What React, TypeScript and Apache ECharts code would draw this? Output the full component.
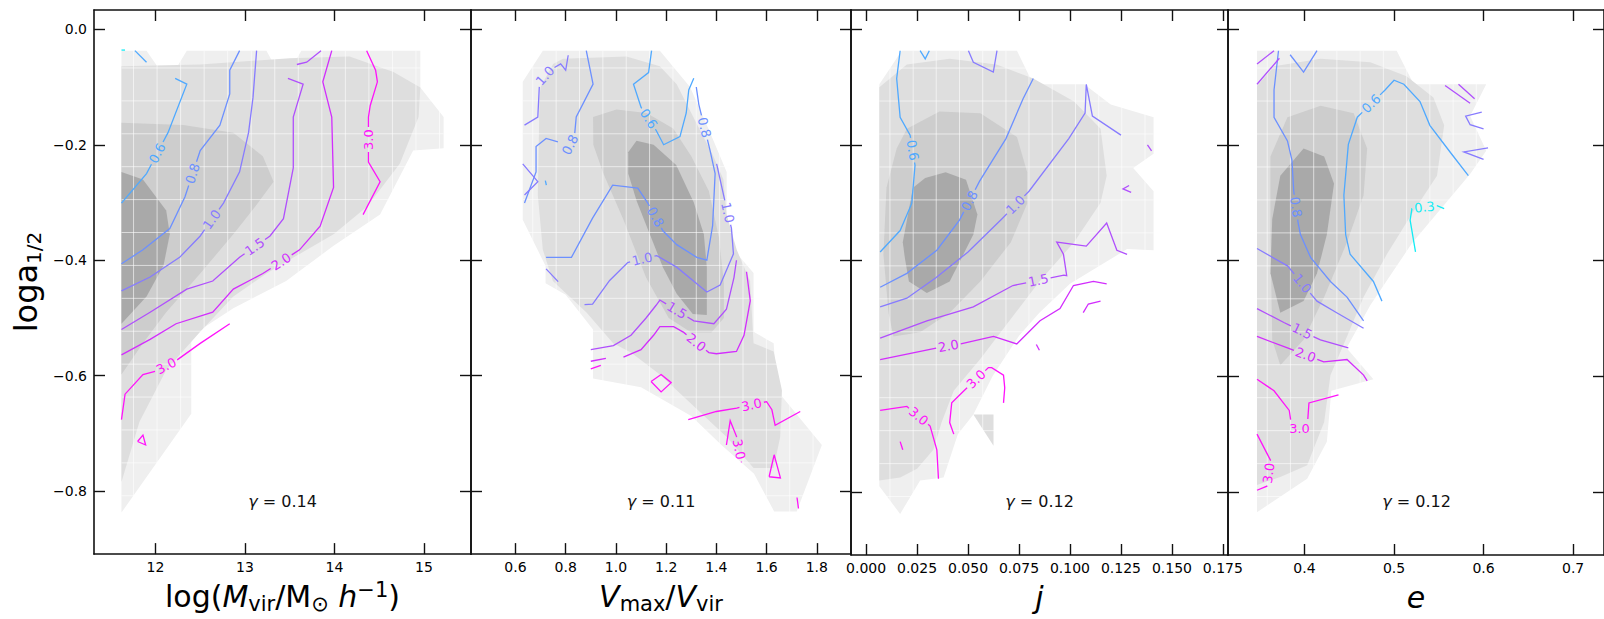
import React, { useEffect, useRef } from 'react';
import * as echarts from 'echarts';

type P = [number, number];
interface Contour { lv: string; pts: P[]; gap?: number[] }

// ---------- axes ----------
const X_MIN = [11.313, 0.423, -0.0074, 0.3146];
const X_MAX = [15.526, 1.936, 0.1775, 0.7345];
const Y_MIN = -0.909;
const Y_MAX = 0.0334;
const X_TICKS = [
  [12, 13, 14, 15],
  [0.6, 0.8, 1.0, 1.2, 1.4, 1.6, 1.8],
  [0, 0.025, 0.05, 0.075, 0.1, 0.125, 0.15, 0.175],
  [0.4, 0.5, 0.6, 0.7],
];
const X_DECIMALS = [0, 1, 3, 1];
const Y_TICKS = [0, -0.2, -0.4, -0.6, -0.8];
const GAMMA = ['0.14', '0.11', '0.12', '0.12'];
const X_NAMES = [
  'log({i|M}{sub|vir}/M{sub|⊙}{i| h}{sup|−1})',
  '{i|V}{sub|max}/{i|V}{sub|vir}',
  '{i|j}',
  '{i|e}',
];
const Y_NAME = 'log{n|a}{sub|1/2}';

// ---------- contour levels ----------
const LEVEL_COLORS: Record<string, string> = {
  '0.3': '#12ecf4',
  '0.6': '#4fa9ff',
  '0.8': '#6c90ff',
  '1.0': '#877bff',
  '1.5': '#b04ffd',
  '2.0': '#d22dfd',
  '3.0': '#ff12fb',
};
const GRAYS = ['#efefef', '#dedede', '#cdcdcd', '#a9a9a9'];

// ---------- filled density regions (outer -> inner) ----------
const P1_L1: P[] = [[11.62,-0.037],[11.90,-0.037],[12.14,-0.091],[12.35,-0.037],[13.24,-0.037],[13.43,-0.091],[13.63,-0.037],[14.96,-0.037],[14.96,-0.101],[15.22,-0.152],[15.22,-0.206],[14.88,-0.21],[14.51,-0.321],[13.99,-0.375],[13.46,-0.436],[12.87,-0.483],[12.40,-0.531],[12.40,-0.666],[11.62,-0.837]];
const P1_L2: P[] = [[11.62,-0.064],[12.50,-0.061],[13.5,-0.05],[14.17,-0.047],[14.66,-0.074],[14.96,-0.101],[14.94,-0.152],[14.73,-0.233],[14.36,-0.308],[13.99,-0.355],[13.61,-0.389],[13.24,-0.423],[12.87,-0.463],[12.50,-0.524],[12.12,-0.59],[11.82,-0.68],[11.62,-0.784]];
const P1_L3: P[] = [[11.62,-0.162],[12.31,-0.166],[12.87,-0.179],[13.20,-0.22],[13.32,-0.264],[13.1,-0.31],[12.87,-0.355],[12.50,-0.423],[12.12,-0.49],[11.86,-0.544],[11.62,-0.598]];
const P1_L4: P[] = [[11.62,-0.247],[11.86,-0.26],[12.12,-0.314],[12.16,-0.355],[12.09,-0.409],[11.90,-0.463],[11.62,-0.51]];

const P2_L1: P[] = [[0.629,-0.091],[0.709,-0.037],[1.175,-0.037],[1.295,-0.10],[1.368,-0.172],[1.441,-0.247],[1.441,-0.368],[1.548,-0.422],[1.548,-0.524],[1.628,-0.544],[1.641,-0.625],[1.82,-0.72],[1.72,-0.835],[1.63,-0.835],[1.55,-0.77],[1.42,-0.72],[1.30,-0.67],[1.10,-0.62],[0.909,-0.605],[0.909,-0.52],[0.80,-0.46],[0.72,-0.44],[0.72,-0.41],[0.629,-0.33]];
const P2_L2: P[] = [[0.70,-0.10],[0.75,-0.06],[0.789,-0.051],[1.042,-0.047],[1.175,-0.064],[1.242,-0.095],[1.308,-0.152],[1.388,-0.22],[1.428,-0.26],[1.44,-0.32],[1.481,-0.382],[1.534,-0.436],[1.548,-0.544],[1.628,-0.558],[1.661,-0.625],[1.654,-0.706],[1.628,-0.76],[1.548,-0.76],[1.441,-0.706],[1.308,-0.652],[1.175,-0.598],[1.06,-0.56],[0.989,-0.544],[0.882,-0.49],[0.749,-0.436],[0.709,-0.382],[0.689,-0.287],[0.696,-0.118]];
const P2_L3: P[] = [[0.909,-0.152],[1.002,-0.139],[1.122,-0.145],[1.228,-0.172],[1.30,-0.22],[1.37,-0.28],[1.41,-0.36],[1.43,-0.44],[1.43,-0.50],[1.38,-0.525],[1.30,-0.525],[1.21,-0.50],[1.12,-0.43],[1.03,-0.33],[0.95,-0.25],[0.91,-0.20]];
const P2_L4: P[] = [[1.049,-0.213],[1.082,-0.193],[1.15,-0.20],[1.24,-0.235],[1.31,-0.30],[1.35,-0.355],[1.362,-0.412],[1.362,-0.495],[1.306,-0.493],[1.242,-0.458],[1.187,-0.412],[1.135,-0.355],[1.083,-0.298],[1.049,-0.25]];

const P3_L1: P[] = [[0.0065,-0.095],[0.0175,-0.037],[0.074,-0.037],[0.082,-0.095],[0.107,-0.095],[0.120,-0.13],[0.141,-0.152],[0.141,-0.215],[0.131,-0.24],[0.141,-0.28],[0.141,-0.382],[0.128,-0.38],[0.10,-0.44],[0.085,-0.49],[0.075,-0.53],[0.062,-0.60],[0.0526,-0.666],[0.045,-0.70],[0.038,-0.775],[0.0265,-0.78],[0.0167,-0.838],[0.0065,-0.79]];
const P3_L2: P[] = [[0.0065,-0.10],[0.02,-0.061],[0.041,-0.051],[0.064,-0.061],[0.082,-0.085],[0.102,-0.125],[0.115,-0.172],[0.118,-0.253],[0.115,-0.30],[0.102,-0.368],[0.085,-0.436],[0.069,-0.51],[0.056,-0.57],[0.043,-0.625],[0.037,-0.68],[0.033,-0.727],[0.025,-0.76],[0.0167,-0.775],[0.0065,-0.78]];
const P3_L2B: P[] = [[0.0526,-0.666],[0.0625,-0.666],[0.0625,-0.72]];
const P3_L3: P[] = [[0.015,-0.206],[0.02,-0.172],[0.036,-0.142],[0.056,-0.145],[0.074,-0.186],[0.079,-0.247],[0.079,-0.301],[0.071,-0.368],[0.056,-0.436],[0.041,-0.49],[0.0265,-0.524],[0.0134,-0.531],[0.011,-0.49],[0.0085,-0.389],[0.010,-0.274]];
const P3_L4: P[] = [[0.018,-0.368],[0.023,-0.274],[0.029,-0.257],[0.039,-0.247],[0.049,-0.26],[0.0546,-0.32],[0.0526,-0.355],[0.041,-0.436],[0.0298,-0.456],[0.021,-0.436],[0.019,-0.395]];

const P4_L1: P[] = [[0.347,-0.037],[0.503,-0.037],[0.522,-0.095],[0.603,-0.095],[0.585,-0.15],[0.603,-0.21],[0.585,-0.25],[0.52,-0.37],[0.4735,-0.477],[0.447,-0.551],[0.477,-0.605],[0.43,-0.625],[0.425,-0.713],[0.403,-0.777],[0.347,-0.835]];
const P4_L2: P[] = [[0.347,-0.098],[0.366,-0.064],[0.418,-0.051],[0.4735,-0.057],[0.514,-0.081],[0.544,-0.118],[0.556,-0.166],[0.548,-0.253],[0.522,-0.314],[0.492,-0.389],[0.466,-0.463],[0.4475,-0.531],[0.429,-0.598],[0.422,-0.679],[0.403,-0.754],[0.373,-0.774],[0.347,-0.788]];
const P4_L3: P[] = [[0.362,-0.22],[0.381,-0.152],[0.418,-0.132],[0.455,-0.145],[0.47,-0.206],[0.466,-0.287],[0.4475,-0.368],[0.422,-0.463],[0.399,-0.537],[0.373,-0.581],[0.364,-0.537],[0.362,-0.355]];
const P4_L4: P[] = [[0.373,-0.253],[0.399,-0.206],[0.422,-0.22],[0.433,-0.267],[0.425,-0.355],[0.414,-0.422],[0.399,-0.47],[0.373,-0.49],[0.362,-0.422],[0.364,-0.328]];

// ---------- contour lines (gap = index of segment carrying the inline label) ----------
const P1_LINES: Contour[] = [
  { lv: '0.3', pts: [[11.62,-0.036],[11.66,-0.036]] },
  { lv: '0.6', pts: [[11.62,-0.301],[11.90,-0.250],[12.14,-0.179],[12.35,-0.095],[12.22,-0.085]], gap: [1] },
  { lv: '0.6', pts: [[11.77,-0.037],[11.90,-0.057]] },
  { lv: '0.8', pts: [[11.62,-0.406],[11.86,-0.382],[12.16,-0.345],[12.33,-0.29],[12.50,-0.21],[12.72,-0.166],[12.83,-0.112],[12.83,-0.071],[12.94,-0.037]], gap: [3] },
  { lv: '1.0', pts: [[11.62,-0.453],[11.94,-0.429],[12.27,-0.395],[12.50,-0.358],[12.76,-0.301],[12.94,-0.247],[13.04,-0.179],[13.09,-0.118],[13.13,-0.037]], gap: [3] },
  { lv: '1.5', pts: [[11.62,-0.52],[11.94,-0.49],[12.35,-0.45],[12.64,-0.436],[12.94,-0.395],[13.28,-0.358],[13.43,-0.328],[13.54,-0.24],[13.54,-0.152],[13.65,-0.095],[13.48,-0.085]], gap: [4] },
  { lv: '1.5', pts: [[13.58,-0.061],[13.69,-0.057],[13.85,-0.037]] },
  { lv: '2.0', pts: [[11.62,-0.564],[11.94,-0.537],[12.23,-0.51],[12.64,-0.49],[12.87,-0.45],[13.20,-0.423],[13.61,-0.382],[13.84,-0.341],[13.99,-0.274],[13.97,-0.152],[13.87,-0.091],[13.97,-0.037]], gap: [5] },
  { lv: '3.0', pts: [[11.62,-0.676],[11.66,-0.632],[11.86,-0.598],[12.01,-0.592],[12.23,-0.574],[12.50,-0.544],[12.83,-0.51]], gap: [3] },
  { lv: '3.0', pts: [[14.32,-0.321],[14.51,-0.264],[14.38,-0.23],[14.38,-0.152],[14.40,-0.132],[14.48,-0.091],[14.46,-0.071],[14.36,-0.037]], gap: [2] },
  { lv: '3.0', pts: [[11.80,-0.714],[11.86,-0.703],[11.89,-0.72],[11.80,-0.714]] },
];
const P2_LINES: Contour[] = [
  { lv: '1.0', pts: [[0.636,-0.166],[0.689,-0.152],[0.696,-0.091],[0.74,-0.07],[0.78,-0.06],[0.80,-0.071],[0.81,-0.045]], gap: [2] },
  { lv: '0.8', pts: [[0.882,-0.037],[0.909,-0.095],[0.842,-0.152],[0.835,-0.185],[0.80,-0.215],[0.776,-0.196],[0.722,-0.189],[0.682,-0.203],[0.682,-0.247],[0.636,-0.301]], gap: [3] },
  { lv: '1.0', pts: [[0.629,-0.233],[0.689,-0.264],[0.636,-0.287]] },
  { lv: '0.6', pts: [[0.719,-0.262],[0.723,-0.27]] },
  { lv: '0.6', pts: [[1.142,-0.037],[1.13,-0.075],[1.07,-0.095],[1.10,-0.135],[1.16,-0.175],[1.19,-0.20],[1.255,-0.186],[1.28,-0.145],[1.29,-0.105],[1.31,-0.085]], gap: [3] },
  { lv: '0.8', pts: [[0.722,-0.395],[0.823,-0.395],[0.907,-0.327],[0.987,-0.270],[1.087,-0.275],[1.127,-0.301],[1.187,-0.349],[1.242,-0.373],[1.322,-0.395],[1.362,-0.40],[1.385,-0.34],[1.395,-0.25],[1.375,-0.21],[1.33,-0.13],[1.32,-0.10]], gap: [5, 12] },
  { lv: '1.0', pts: [[1.401,-0.233],[1.43,-0.29],[1.46,-0.345],[1.468,-0.389],[1.415,-0.443],[1.362,-0.455],[1.242,-0.412],[1.163,-0.392],[1.047,-0.404],[0.975,-0.435],[0.907,-0.476],[0.875,-0.477]], gap: [1, 7] },
  { lv: '1.0', pts: [[0.722,-0.415],[0.77,-0.437]] },
  { lv: '1.5', pts: [[0.90,-0.555],[0.99,-0.548],[1.06,-0.53],[1.12,-0.50],[1.16,-0.478],[1.175,-0.469],[1.31,-0.505],[1.39,-0.51],[1.44,-0.485],[1.47,-0.43],[1.48,-0.40]], gap: [5] },
  { lv: '2.0', pts: [[0.90,-0.575],[0.96,-0.57]] },
  { lv: '2.0', pts: [[1.03,-0.568],[1.10,-0.555],[1.15,-0.53],[1.175,-0.515],[1.23,-0.515],[1.27,-0.525],[1.37,-0.56],[1.40,-0.562],[1.48,-0.558],[1.51,-0.53],[1.535,-0.47],[1.52,-0.42]], gap: [5] },
  { lv: '3.0', pts: [[1.14,-0.61],[1.18,-0.598],[1.22,-0.612],[1.18,-0.628],[1.14,-0.61]] },
  { lv: '3.0', pts: [[0.90,-0.588],[0.94,-0.582]] },
  { lv: '3.0', pts: [[1.288,-0.676],[1.40,-0.662],[1.481,-0.656],[1.60,-0.645],[1.621,-0.659],[1.634,-0.686],[1.734,-0.662]], gap: [2] },
  { lv: '3.0', pts: [[1.44,-0.72],[1.455,-0.678],[1.48,-0.705],[1.50,-0.75]], gap: [2] },
  { lv: '3.0', pts: [[1.61,-0.775],[1.63,-0.737],[1.655,-0.777],[1.61,-0.775]] },
  { lv: '3.0', pts: [[1.721,-0.811],[1.727,-0.83]] },
];
const P3_LINES: Contour[] = [
  { lv: '0.6', pts: [[0.0167,-0.037],[0.015,-0.085],[0.0167,-0.152],[0.0216,-0.183],[0.024,-0.235],[0.0224,-0.301],[0.0167,-0.348],[0.0069,-0.385]], gap: [3] },
  { lv: '0.6', pts: [[0.0265,-0.037],[0.029,-0.051],[0.031,-0.037]] },
  { lv: '1.0', pts: [[0.0502,-0.037],[0.0526,-0.057],[0.0624,-0.074],[0.0642,-0.037]] },
  { lv: '0.8', pts: [[0.0069,-0.446],[0.02,-0.422],[0.0347,-0.382],[0.0458,-0.33],[0.0556,-0.263],[0.0686,-0.189],[0.077,-0.12],[0.082,-0.085]], gap: [3] },
  { lv: '1.0', pts: [[0.0069,-0.48],[0.02,-0.465],[0.0344,-0.429],[0.05,-0.385],[0.0668,-0.327],[0.0799,-0.28],[0.0994,-0.189],[0.1074,-0.145],[0.108,-0.095],[0.111,-0.15],[0.125,-0.183]], gap: [4] },
  { lv: '1.5', pts: [[0.0069,-0.534],[0.0298,-0.504],[0.0526,-0.48],[0.072,-0.443],[0.097,-0.425],[0.0984,-0.426],[0.0968,-0.389],[0.0935,-0.368],[0.108,-0.375],[0.118,-0.335],[0.123,-0.382],[0.128,-0.389]], gap: [3] },
  { lv: '1.5', pts: [[0.129,-0.27],[0.126,-0.276],[0.130,-0.282]] },
  { lv: '1.5', pts: [[0.138,-0.2],[0.140,-0.21]] },
  { lv: '2.0', pts: [[0.0069,-0.571],[0.0347,-0.551],[0.0461,-0.544],[0.0625,-0.531],[0.0739,-0.544],[0.0853,-0.504],[0.0951,-0.483],[0.1017,-0.443],[0.1115,-0.436],[0.118,-0.44]], gap: [1] },
  { lv: '2.0', pts: [[0.1065,-0.49],[0.109,-0.475],[0.115,-0.47]] },
  { lv: '2.0', pts: [[0.0835,-0.545],[0.085,-0.555]] },
  { lv: '3.0', pts: [[0.0069,-0.659],[0.02,-0.652],[0.0314,-0.686],[0.0347,-0.727],[0.0355,-0.777]], gap: [1] },
  { lv: '3.0', pts: [[0.043,-0.70],[0.041,-0.68],[0.042,-0.646],[0.048,-0.625],[0.06,-0.585],[0.0616,-0.585],[0.0674,-0.598],[0.068,-0.62],[0.0674,-0.646]], gap: [3] },
  { lv: '3.0', pts: [[0.0167,-0.713],[0.018,-0.727]] },
];
const P4_LINES: Contour[] = [
  { lv: '0.8', pts: [[0.371,-0.037],[0.366,-0.105],[0.366,-0.152],[0.381,-0.193],[0.386,-0.226],[0.388,-0.28],[0.393,-0.335],[0.3955,-0.355],[0.407,-0.395],[0.429,-0.436],[0.4475,-0.463],[0.466,-0.504]], gap: [5] },
  { lv: '0.8', pts: [[0.384,-0.044],[0.399,-0.074],[0.414,-0.037]] },
  { lv: '1.5', pts: [[0.347,-0.06],[0.366,-0.037]] },
  { lv: '1.5', pts: [[0.347,-0.095],[0.372,-0.05]] },
  { lv: '0.6', pts: [[0.4865,-0.47],[0.477,-0.436],[0.451,-0.389],[0.446,-0.355],[0.444,-0.287],[0.449,-0.199],[0.459,-0.152],[0.49,-0.105],[0.5,-0.088],[0.511,-0.095],[0.529,-0.125],[0.54,-0.166],[0.563,-0.213],[0.583,-0.253]], gap: [6] },
  { lv: '1.0', pts: [[0.347,-0.379],[0.381,-0.409],[0.414,-0.47],[0.436,-0.49],[0.466,-0.517]], gap: [1] },
  { lv: '1.5', pts: [[0.347,-0.483],[0.377,-0.507],[0.4178,-0.537],[0.449,-0.551]], gap: [1] },
  { lv: '2.0', pts: [[0.347,-0.531],[0.381,-0.551],[0.4215,-0.575],[0.4475,-0.571],[0.466,-0.598],[0.47,-0.608]], gap: [1] },
  { lv: '3.0', pts: [[0.347,-0.605],[0.366,-0.625],[0.383,-0.659],[0.386,-0.69],[0.403,-0.69],[0.405,-0.646],[0.438,-0.632]], gap: [3] },
  { lv: '3.0', pts: [[0.347,-0.70],[0.362,-0.745],[0.358,-0.79],[0.347,-0.797]], gap: [1] },
  { lv: '0.3', pts: [[0.524,-0.385],[0.518,-0.33],[0.52,-0.31],[0.548,-0.305],[0.556,-0.31]], gap: [2] },
  { lv: '1.5', pts: [[0.557,-0.097],[0.585,-0.128]] },
  { lv: '1.5', pts: [[0.572,-0.095],[0.59,-0.12]] },
  { lv: '1.0', pts: [[0.598,-0.143],[0.58,-0.15],[0.585,-0.165],[0.60,-0.172]] },
  { lv: '1.0', pts: [[0.605,-0.205],[0.578,-0.212],[0.60,-0.225]] },
];

// ---------- faint white bin grid ----------
const GRID_Y = [-0.067,-0.124,-0.181,-0.238,-0.295,-0.352,-0.409,-0.466,-0.523,-0.580,-0.637,-0.694,-0.751,-0.808];
const GRID_X1 = [11.755,12.018,12.281,12.544,12.807,13.07,13.333,13.596,13.859,14.122,14.385,14.648,14.911,15.174];
const GRID_X2 = [0.669,0.762,0.855,0.948,1.041,1.134,1.227,1.320,1.413,1.506,1.599,1.692,1.785];
const GRID_X3 = [0.0117,0.0231,0.0344,0.0458,0.0572,0.0686,0.0799,0.0913,0.1027,0.1141,0.1254,0.1368];
const GRID_X4 = [0.3584,0.3843,0.4103,0.4362,0.4622,0.4881,0.5141,0.5400,0.5660,0.5919];
const GRAY_X_EXT: P[] = [[11.62, 15.22], [0.629, 1.82], [0.0065, 0.141], [0.347, 0.603]];
const GRAY_Y_EXT: P = [-0.837, -0.037];

const LAYERS = [
  [P1_L1, P1_L2, P1_L3, P1_L4].map((pts, k) => ({ pts, color: GRAYS[k] })),
  [P2_L1, P2_L2, P2_L3, P2_L4].map((pts, k) => ({ pts, color: GRAYS[k] })),
  [P3_L1, P3_L2, P3_L2B, P3_L3, P3_L4].map((pts, k) => ({ pts, color: GRAYS[[0, 1, 1, 2, 3][k]] })),
  [P4_L1, P4_L2, P4_L3, P4_L4].map((pts, k) => ({ pts, color: GRAYS[k] })),
];
const LINES = [P1_LINES, P2_LINES, P3_LINES, P4_LINES];
const GRID_XS = [GRID_X1, GRID_X2, GRID_X3, GRID_X4];

// layout
const PANEL_LEFT = [94, 471, 851, 1228];
const PANEL_WIDTH = [377, 380, 377, 377];
const PANEL_TOP = 10;
const PANEL_HEIGHT = 550;
const FONT = 'DejaVu Sans';
const AXIS_COLOR = '#000';

function cutCircle(pts: number[][], c: number[], r: number): number[][][] {
  const out: number[][][] = [];
  let cur: number[][] = [];
  for (let i = 0; i < pts.length - 1; i++) {
    const a = pts[i], b = pts[i + 1];
    const dx = b[0] - a[0], dy = b[1] - a[1];
    const fx = a[0] - c[0], fy = a[1] - c[1];
    const A = dx * dx + dy * dy, B = 2 * (fx * dx + fy * dy), C = fx * fx + fy * fy - r * r;
    const disc = B * B - 4 * A * C;
    let t1 = 2, t2 = 2;
    if (A > 0 && disc > 0) {
      const s = Math.sqrt(disc);
      t1 = (-B - s) / (2 * A);
      t2 = (-B + s) / (2 * A);
    }
    const lerp = (t: number) => [a[0] + dx * t, a[1] + dy * t];
    if (!(t1 < 1 && t2 > 0)) {
      if (cur.length === 0) cur.push(a);
      cur.push(b);
    } else {
      if (t1 > 0) {
        if (cur.length === 0) cur.push(a);
        cur.push(lerp(t1));
      }
      if (cur.length > 1) out.push(cur);
      cur = [];
      if (t2 < 1) {
        cur.push(lerp(t2));
        cur.push(b);
      }
    }
  }
  if (cur.length > 1) out.push(cur);
  return out;
}

function buildOption() {
  const grid: any[] = [];
  const xAxis: any[] = [];
  const yAxis: any[] = [];
  const series: any[] = [];
  const graphic: any[] = [];

  for (let i = 0; i < 4; i++) {
    grid.push({ left: PANEL_LEFT[i], top: PANEL_TOP, width: PANEL_WIDTH[i], height: PANEL_HEIGHT, containLabel: false });
    const axisLine = { show: true, onZero: false, lineStyle: { color: '#111', width: 1.6 } };
    const tickBase = { show: true, inside: true, length: 11, lineStyle: { color: '#111', width: 1.4 } };
    const dec = X_DECIMALS[i];
    xAxis.push({
      type: 'value', gridIndex: i, position: 'bottom', min: X_MIN[i], max: X_MAX[i], z: 10,
      axisLine, splitLine: { show: false },
      axisTick: { ...tickBase, customValues: X_TICKS[i] },
      axisLabel: {
        show: true, customValues: X_TICKS[i], margin: 6, fontSize: 14, color: AXIS_COLOR, fontFamily: FONT,
        formatter: (v: number) => v.toFixed(dec),
      },
      name: X_NAMES[i], nameLocation: 'middle', nameGap: 25,
      nameTextStyle: {
        fontSize: 30, lineHeight: 34, color: '#000', fontFamily: FONT,
        rich: {
          i: { fontSize: 30, lineHeight: 34, fontStyle: 'italic', color: '#000', fontFamily: FONT },
          sub: { fontSize: 21, lineHeight: 22, padding: [14, 0, 0, 0], color: '#000', fontFamily: FONT },
          sup: { fontSize: 21, lineHeight: 22, padding: [0, 0, 14, 0], color: '#000', fontFamily: FONT },
        },
      },
    });
    xAxis.push({
      type: 'value', gridIndex: i, position: 'top', min: X_MIN[i], max: X_MAX[i], z: 10,
      axisLine, splitLine: { show: false },
      axisTick: { ...tickBase, customValues: X_TICKS[i] },
      axisLabel: { show: false },
    });
    yAxis.push({
      type: 'value', gridIndex: i, position: 'left', min: Y_MIN, max: Y_MAX, z: 10,
      axisLine, splitLine: { show: false },
      axisTick: { ...tickBase, customValues: Y_TICKS },
      axisLabel: {
        show: i === 0, customValues: Y_TICKS, margin: 7, fontSize: 14, color: AXIS_COLOR, fontFamily: FONT,
        formatter: (v: number) => (v < 0 ? '−' : '') + Math.abs(v).toFixed(1),
      },
      ...(i === 0
        ? {
            name: Y_NAME, nameLocation: 'middle', nameGap: 50, nameRotate: 90,
            nameTextStyle: {
              fontSize: 32, lineHeight: 36, color: '#000', fontFamily: FONT,
              rich: {
                n: { fontSize: 32, lineHeight: 36, color: '#000', fontFamily: FONT },
                sub: { fontSize: 20, lineHeight: 21, padding: [15, 0, 0, 0], color: '#000', fontFamily: FONT },
              },
            },
          }
        : {}),
    });
    yAxis.push({
      type: 'value', gridIndex: i, position: 'right', min: Y_MIN, max: Y_MAX, z: 10,
      axisLine, splitLine: { show: false },
      axisTick: { ...tickBase, customValues: Y_TICKS },
      axisLabel: { show: false },
    });

    const layers = LAYERS[i];
    series.push({
      type: 'custom', xAxisIndex: 2 * i, yAxisIndex: 2 * i, z: 1, silent: true, clip: true,
      dimensions: ['x', 'y'], encode: { x: 0, y: 1 },
      data: layers.map((l) => l.pts[0]),
      renderItem: (params: any, api: any) => {
        const l = layers[params.dataIndex];
        return {
          type: 'polygon',
          shape: { points: l.pts.map((p) => api.coord(p)) },
          style: { fill: l.color, stroke: null },
        };
      },
    });

    const gx = GRID_XS[i];
    const ext = GRAY_X_EXT[i];
    series.push({
      type: 'custom', xAxisIndex: 2 * i, yAxisIndex: 2 * i, z: 2, silent: true, clip: true,
      dimensions: ['x', 'y'], encode: { x: 0, y: 1 },
      data: [[ext[0], GRAY_Y_EXT[0]]],
      renderItem: (_params: any, api: any) => {
        const children: any[] = [];
        const st = { stroke: 'rgba(255,255,255,0.6)', lineWidth: 1 };
        gx.forEach((x) => {
          const a = api.coord([x, GRAY_Y_EXT[1]]);
          const b = api.coord([x, GRAY_Y_EXT[0]]);
          children.push({ type: 'line', shape: { x1: a[0], y1: a[1], x2: b[0], y2: b[1] }, style: st });
        });
        GRID_Y.forEach((y) => {
          const a = api.coord([ext[0], y]);
          const b = api.coord([ext[1], y]);
          children.push({ type: 'line', shape: { x1: a[0], y1: a[1], x2: b[0], y2: b[1] }, style: st });
        });
        return { type: 'group', children };
      },
    });

    const lines = LINES[i];
    series.push({
      type: 'custom', xAxisIndex: 2 * i, yAxisIndex: 2 * i, z: 3, silent: true, clip: true,
      dimensions: ['x', 'y'], encode: { x: 0, y: 1 },
      data: lines.map((c) => c.pts[0]),
      renderItem: (params: any, api: any) => {
        const c = lines[params.dataIndex];
        const color = LEVEL_COLORS[c.lv];
        const px: number[][] = c.pts.map((p) => api.coord(p));
        let pieces: number[][][] = [px];
        const texts: any[] = [];
        (c.gap || []).forEach((g) => {
          const a = px[g], b = px[g + 1];
          const m = [(a[0] + b[0]) / 2, (a[1] + b[1]) / 2];
          let ang = Math.atan2(-(b[1] - a[1]), b[0] - a[0]);
          if (ang > Math.PI / 2) ang -= Math.PI;
          if (ang < -Math.PI / 2) ang += Math.PI;
          pieces = pieces.flatMap((pc) => cutCircle(pc, m, 12.5));
          texts.push({
            type: 'text', x: m[0], y: m[1], rotation: ang,
            style: { text: c.lv, fill: color, fontSize: 13, fontFamily: FONT, align: 'center', verticalAlign: 'middle' },
          });
        });
        const children: any[] = pieces.map((pc) => ({
          type: 'polyline', shape: { points: pc },
          style: { stroke: color, lineWidth: 1.3, fill: null },
        }));
        return { type: 'group', children: children.concat(texts) };
      },
    });

    graphic.push({
      type: 'text', x: PANEL_LEFT[i] + PANEL_WIDTH[i] / 2, y: 501, z: 20,
      style: {
        text: '{g|γ} = ' + GAMMA[i], fill: '#111', fontSize: 16, fontFamily: FONT,
        align: 'center', verticalAlign: 'middle',
        rich: { g: { fontSize: 16, fontStyle: 'italic', fontFamily: FONT, fill: '#111' } },
      },
    });
  }

  return {
    animation: false,
    backgroundColor: '#ffffff',
    textStyle: { fontFamily: FONT },
    grid, xAxis, yAxis, series, graphic,
  };
}

export default function App() {
  const ref = useRef<HTMLDivElement>(null);
  useEffect(() => {
    if (!ref.current) return;
    const chart = echarts.init(ref.current, undefined, { renderer: 'svg' });
    chart.setOption(buildOption() as any);
    return () => chart.dispose();
  }, []);
  return <div ref={ref} style={{ position: 'fixed', left: 0, top: 0, width: 1604, height: 619, background: '#fff' }} />;
}
